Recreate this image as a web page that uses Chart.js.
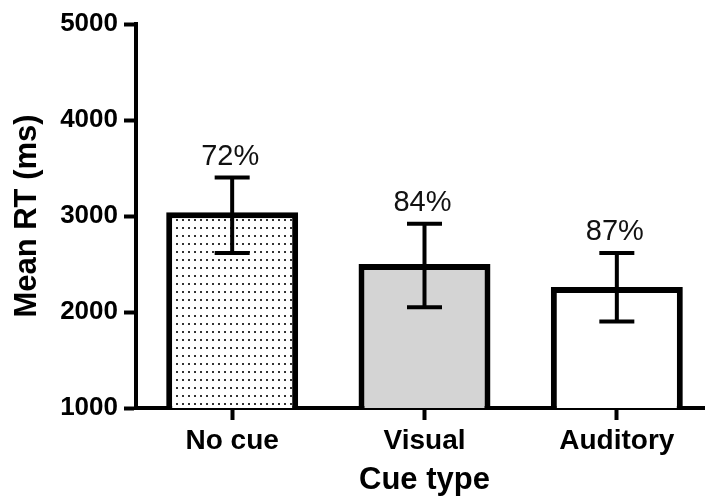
<!DOCTYPE html>
<html>
<head>
<meta charset="utf-8">
<script src="https://cdn.jsdelivr.net/npm/chart.js@4"></script>
<style>
  html, body { margin: 0; padding: 0; background: #fff; overflow: hidden; }
  #wrap { width: 720px; height: 499px; }
</style>
</head>
<body>
<div id="wrap"><canvas id="rtChart"></canvas></div>
<script>
// values
let cueTypes = ['No cue', 'Visual', 'Auditory'];
let meanRT = [3040, 2500, 2260];   // bar tops (ms)
let errHigh = [3400, 2920, 2615];  // upper whisker
let errLow = [2615, 2050, 1900];   // lower whisker
let accuracy = ['72%', '84%', '87%'];
let yTicks = [1000, 2000, 3000, 4000, 5000];

let fontFamily = '"Liberation Sans", Arial, Helvetica, sans-serif';

// dotted fill for the "No cue" bar
let dotCanvas = document.createElement('canvas');
dotCanvas.width = 6;
dotCanvas.height = 8;
let dctx = dotCanvas.getContext('2d');
dctx.fillStyle = '#ffffff';
dctx.fillRect(0, 0, 6, 8);
dctx.fillStyle = '#333333';
dctx.fillRect(2, 3, 2, 2);
let dotPattern = dctx.createPattern(dotCanvas, 'repeat');

let barColors = [dotPattern, '#d4d4d4', '#ffffff'];

// error bars and accuracy labels, placed with the chart's own scales
const errorBarPlugin = {
  id: 'errorBars',
  afterDatasetsDraw(chart) {
    let ctx = chart.ctx;
    let xs = chart.scales.x;
    let ys = chart.scales.y;
    ctx.save();
    ctx.strokeStyle = '#000';
    ctx.lineWidth = 4;
    for (let i = 0; i < cueTypes.length; i++) {
      let cx = xs.getPixelForValue(i);
      let top = ys.getPixelForValue(errHigh[i]);
      let bot = ys.getPixelForValue(errLow[i]);
      ctx.beginPath();
      ctx.moveTo(cx, top);
      ctx.lineTo(cx, bot);
      ctx.moveTo(cx - 17.5, top);
      ctx.lineTo(cx + 17.5, top);
      ctx.moveTo(cx - 17.5, bot);
      ctx.lineTo(cx + 17.5, bot);
      ctx.stroke();

      ctx.fillStyle = '#111';
      ctx.font = '29px ' + fontFamily;
      ctx.textAlign = 'center';
      ctx.textBaseline = 'alphabetic';
      ctx.fillText(accuracy[i], cx - 2, top - 13);
    }
    ctx.restore();
  }
};

let rtChart = new Chart(document.getElementById('rtChart'), {
  type: 'bar',
  data: {
    labels: cueTypes,
    datasets: [{
      data: meanRT,
      backgroundColor: barColors,
      borderColor: '#000',
      borderWidth: 6,
      borderSkipped: 'start',
      barPercentage: 0.686,
      categoryPercentage: 1
    }]
  },
  options: {
    responsive: true,
    maintainAspectRatio: false,
    animation: false,
    layout: { padding: { top: 24, right: 7, left: 0, bottom: 0 } },
    plugins: {
      legend: { display: false },
      tooltip: { enabled: false }
    },
    scales: {
      x: {
        z: 1,
        afterFit: (scale) => { scale.height = 91; },
        border: { display: true, color: '#000', width: 4 },
        grid: {
          offset: false,
          drawOnChartArea: false,
          drawTicks: true,
          tickLength: 12,
          tickWidth: 4,
          tickColor: '#000'
        },
        ticks: {
          color: '#000',
          padding: 4,
          font: { family: fontFamily, size: 28, weight: 'bold' }
        },
        title: {
          display: true,
          text: 'Cue type',
          color: '#000',
          padding: 0,
          font: { family: fontFamily, size: 31, weight: 'bold', lineHeight: 1.2 }
        }
      },
      y: {
        z: 1,
        min: yTicks[0],
        max: yTicks[yTicks.length - 1],
        afterFit: (scale) => { scale.width = 136; },
        afterBuildTicks: (scale) => { scale.ticks = yTicks.map(v => ({ value: v })); },
        border: { display: true, color: '#000', width: 4 },
        grid: {
          drawOnChartArea: false,
          drawTicks: true,
          tickLength: 12,
          tickWidth: 4,
          tickColor: '#000'
        },
        ticks: {
          color: '#000',
          padding: 6,
          callback: (v) => String(v),
          font: { family: fontFamily, size: 26, weight: 'bold' }
        },
        title: {
          display: true,
          text: 'Mean RT (ms)',
          color: '#000',
          padding: { top: 9, bottom: 0 },
          font: { family: fontFamily, size: 31, weight: 'bold', lineHeight: 1.2 }
        }
      }
    }
  },
  plugins: [errorBarPlugin]
});
</script>
</body>
</html>
